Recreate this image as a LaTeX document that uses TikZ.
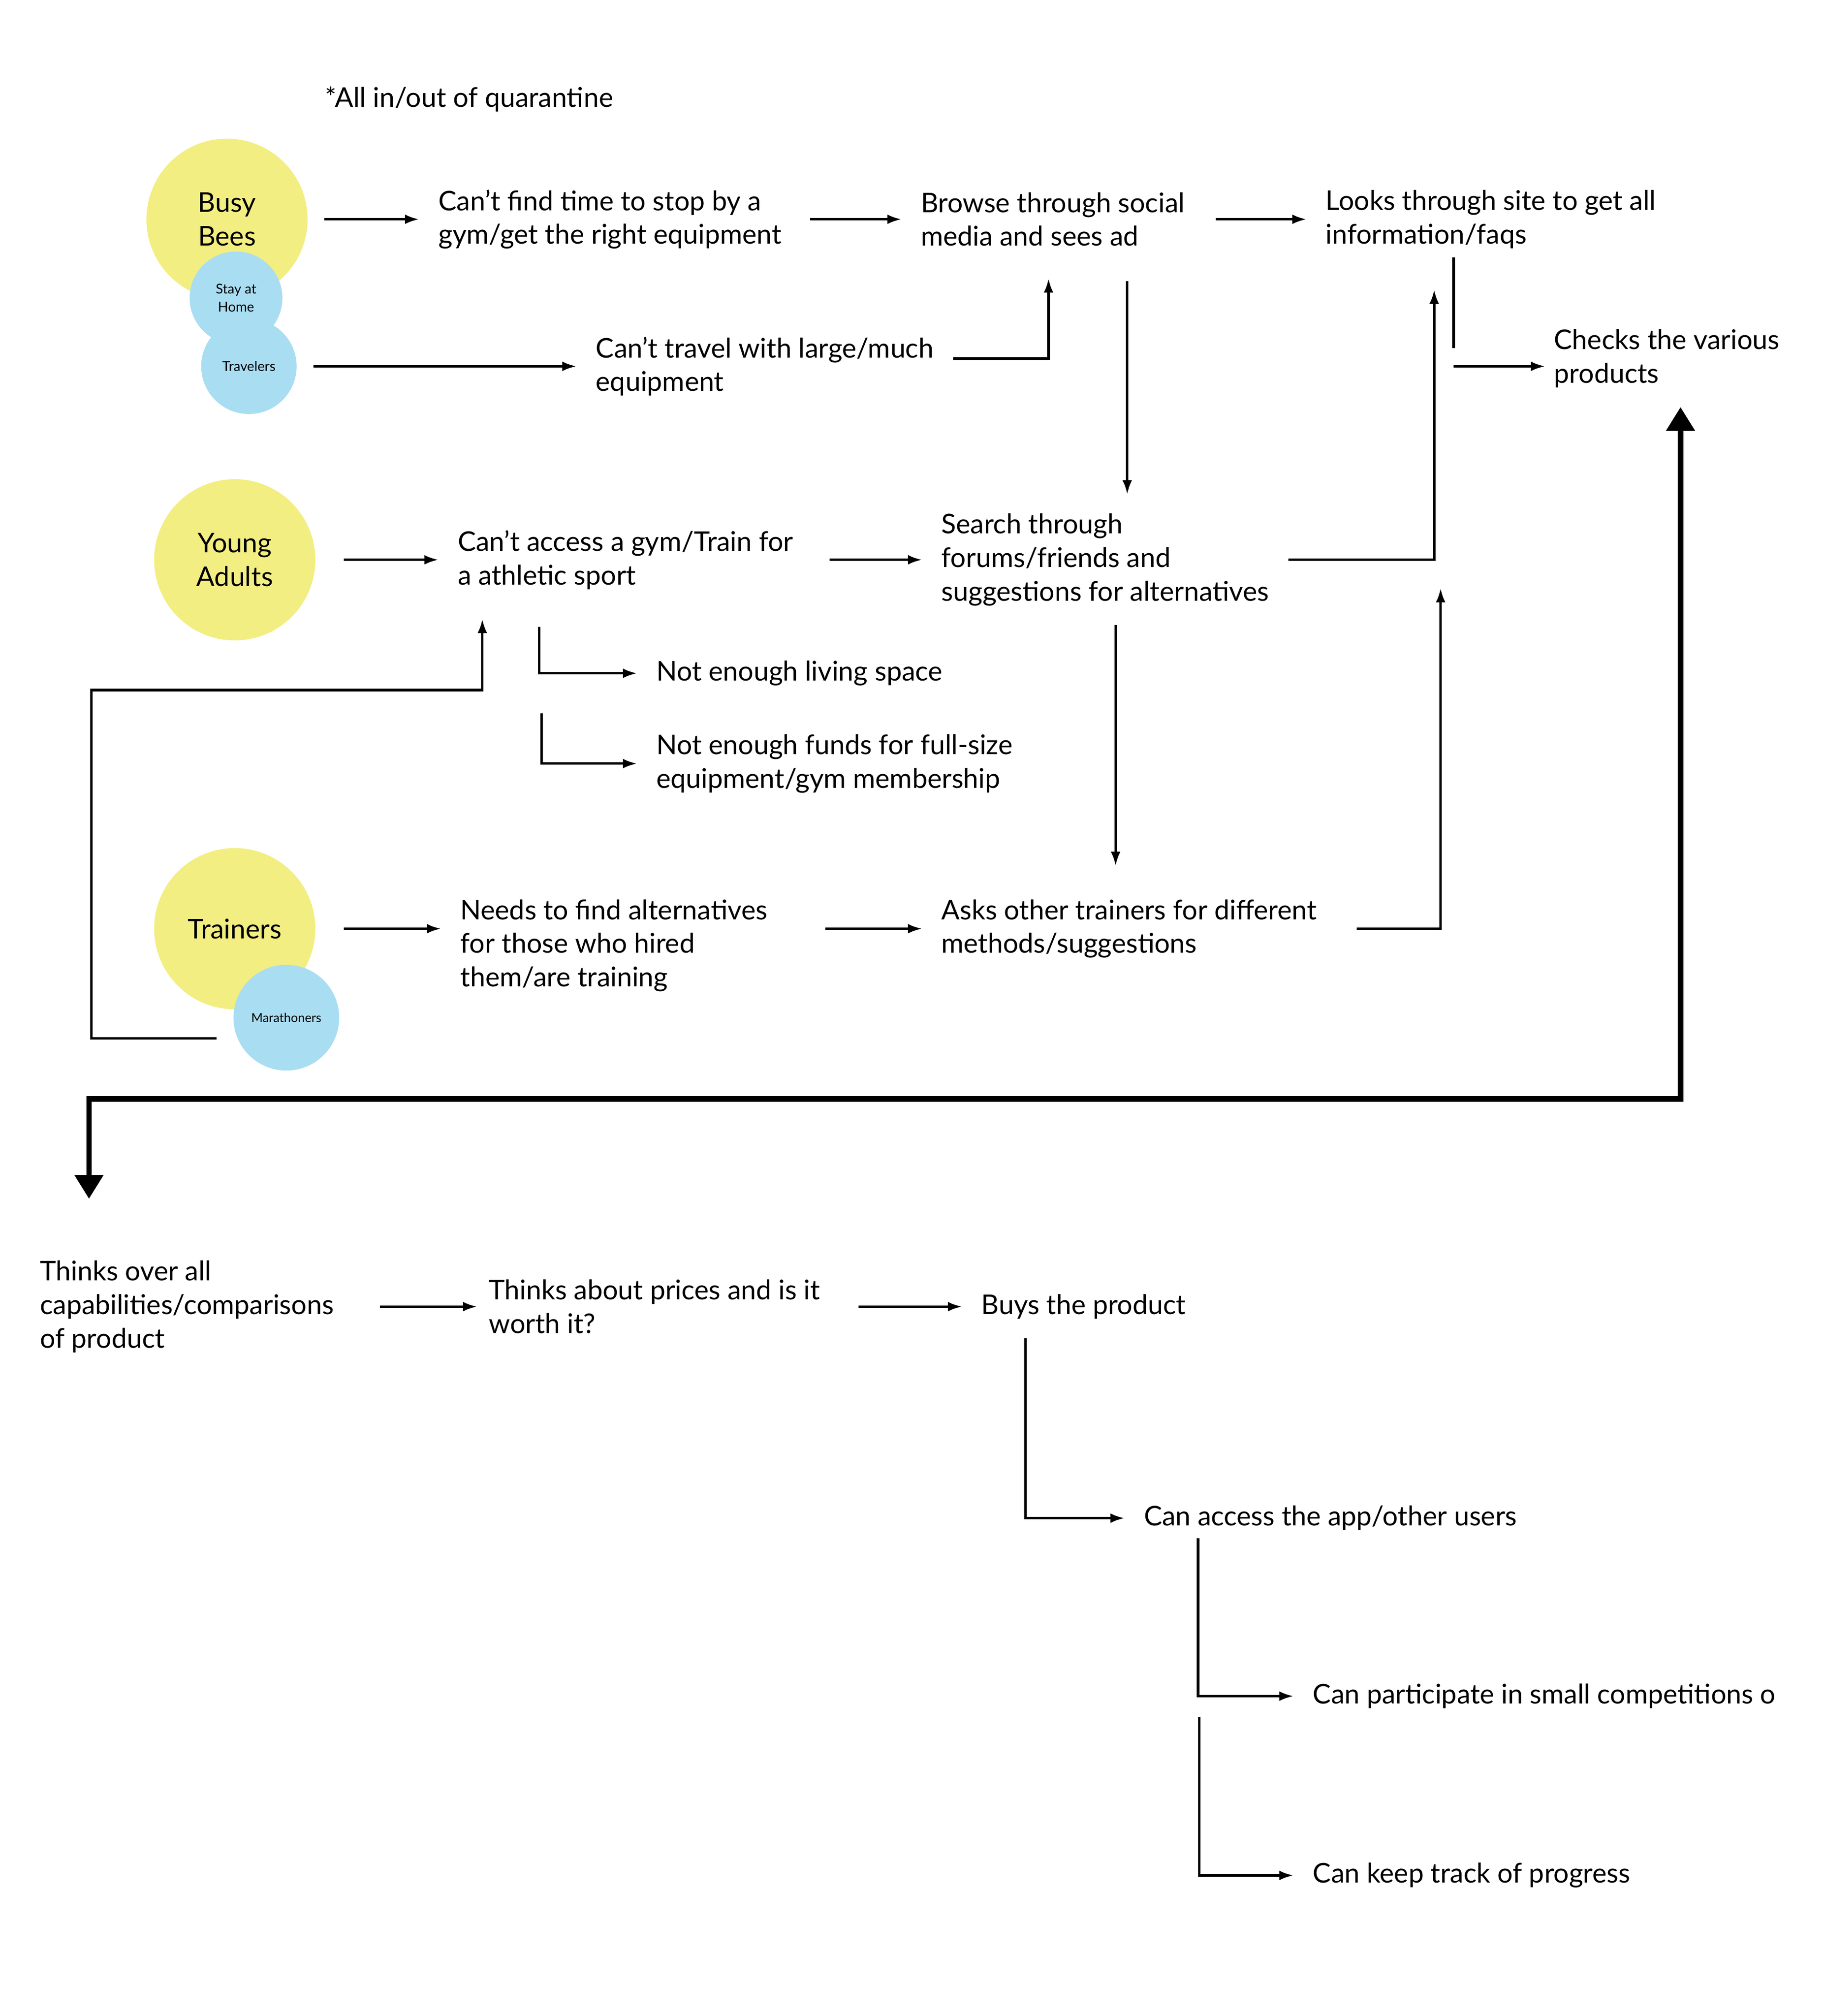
\documentclass[tikz,border=0pt]{standalone}
\usepackage{fontspec}
\setmainfont{Lato}
\usetikzlibrary{arrows.meta,positioning}
\definecolor{beeyellow}{HTML}{F2EE82}
\definecolor{skyblue}{HTML}{A9DDF2}

\begin{document}
\begin{tikzpicture}[x=0.02cm,y=-0.02cm,line width=1.1pt,>={Latex[length=2.2mm,width=1.5mm]}]
    \tikzstyle{persona}=[circle, fill=beeyellow, inner sep=0pt, outer sep=0.26cm, minimum size=2.5cm, align=center, font=\fontsize{12}{14.8}\selectfont]
    \tikzstyle{subpersona}=[circle, fill=skyblue, inner sep=0pt, outer sep=0.26cm, align=center, font=\fontsize{6}{8}\selectfont]
    \tikzstyle{txt}=[anchor=west, align=left, inner sep=0pt, outer xsep=0.3cm, outer ysep=0.3cm, font=\fontsize{12}{14.8}\selectfont]
    \tikzstyle{mainline}=[line width=2.4pt, {Triangle[length=3.7mm,width=4.3mm]}-{Triangle[length=3.7mm,width=4.3mm]}]

    \useasboundingbox (0,0) rectangle (1414,1563);

    % personas
    \node[persona] (bees) at (176,170) {Busy\\Bees};
    \node[subpersona, minimum size=1.44cm] (home) at (183,231) {Stay at\\Home};
    \node[subpersona, minimum size=1.48cm] (travel) at (193,284) {Travelers};
    \node[persona] (young) at (182,434) {Young\\Adults};
    \node[persona] (trainers) at (182,720) {Trainers};
    \node[subpersona, minimum size=1.64cm, font=\fontsize{5.5}{7}\selectfont] (marathon) at (222,789) {Marathoners};

    % steps (west anchor sits 15 units left of the text)
    \node[txt] (quarantine) at (237,77) {*All in/out of quarantine};
    \node[txt] (notime) at (325,170) {Can't find time to stop by a\\gym/get the right equipment};
    \node[txt] (browse) at (699,170) {Browse through social\\media and sees ad};
    \node[txt] (looks) at (1013,170) {Looks through site to get all\\information/faqs};
    \node[txt] (travelno) at (447,284) {Can't travel with large/much\\equipment};
    \node[txt] (checks) at (1190,278) {Checks the various\\products};
    \node[txt] (noaccess) at (340,434) {Can't access a gym/Train for\\a athletic sport};
    \node[txt] (search) at (715,434) {Search through\\forums/friends and\\suggestions for alternatives};
    \node[txt] (space) at (494,522) {Not enough living space};
    \node[txt] (funds) at (494,592) {Not enough funds for full-size\\equipment/gym membership};
    \node[txt] (needs) at (342,733) {Needs to find alternatives\\for those who hired\\them/are training};
    \node[txt] (asks) at (715,720) {Asks other trainers for different\\methods/suggestions};
    \node[txt] (thinks) at (16,1013) {Thinks over all\\capabilities/comparisons\\of product};
    \node[txt] (prices) at (364,1013) {Thinks about prices and is it\\worth it?};
    \node[txt] (buys) at (746,1013) {Buys the product};
    \node[txt] (app) at (872,1177) {Can access the app/other users};
    \node[txt] (compete) at (1003,1315) {Can participate in small competitions o};
    \node[txt] (track) at (1003,1454) {Can keep track of progress};

    % columns and corners
    \coordinate (c813) at (813,0);
    \coordinate (c874) at (874,0);
    \coordinate (c1112) at (1112,0);
    \coordinate (c418) at (418,0);
    \coordinate (c865) at (865,0);
    \coordinate (c374) at (374,0);
    \coordinate (c1303) at (1303,0);
    \coordinate (c795) at (795,0);
    \coordinate (c929) at (929,0);
    \coordinate (split) at (1127,284);
    \coordinate (fundsstart) at (420,553);
    \coordinate (merge) at (1117,456);
    \coordinate (loopcorner) at (71,535);
    \coordinate (turn) at (69,852);
    \coordinate (trackstart) at (930,1331);

    % top rows
    \draw[->] (bees) -- (notime);
    \draw[->, shorten <=0.14cm] (notime) -- (browse);
    \draw[->, shorten <=0.18cm] (browse) -- (looks);
    \draw[->] (travel) -- (travelno);
    \draw[->, shorten >=0.2cm] ([yshift=0.12cm]travelno.east) -| (browse.south -| c813);
    \draw[->, shorten <=0.24cm] (browse.south -| c874) -- (search.north -| c874);
    \draw[shorten <=-0.16cm, shorten >=0.28cm] (looks.south -| split) -- (split);
    \draw[->, shorten >=-0.16cm] (split) -- (split -| checks.west);

    % young adults
    \draw[->, shorten <=0.18cm] (young) -- (noaccess);
    \draw[->, shorten <=0.26cm] (noaccess) -- (search);
    \draw[->, shorten >=0.34cm] (search.east) -| (looks.south -| c1112);
    \draw[->, shorten <=0.28cm] (noaccess.south -| c418) |- (space);
    \draw[->] (fundsstart) |- (funds);
    \draw[->, shorten >=0.22cm] (search.south -| c865) -- (asks.north -| c865);

    % trainers
    \draw[->, shorten <=0.18cm] (trainers) -- (trainers -| needs.west);
    \draw[->, shorten <=0.6cm] (asks -| needs.east) -- (asks);
    \draw[->, shorten <=0.32cm] (asks.east) -| (merge);
    \draw[->, shorten >=0.16cm] ([yshift=-0.32cm]marathon.west) -| (loopcorner) -| (noaccess.south -| c374);

    % to the bottom half
    \draw[mainline, shorten >=0.66cm] (checks.south -| c1303) |- (turn) -- (thinks.north -| turn);

    \draw[->, shorten <=0.42cm, shorten >=-0.12cm] (thinks) -- (prices);
    \draw[->, shorten <=0.3cm] (prices) -- (buys);
    \draw[->] (buys.south -| c795) |- (app);
    \draw[->, shorten <=-0.18cm] (app.south -| c929) |- (compete);
    \draw[->] (trackstart) |- (track);
\end{tikzpicture}
\end{document}
